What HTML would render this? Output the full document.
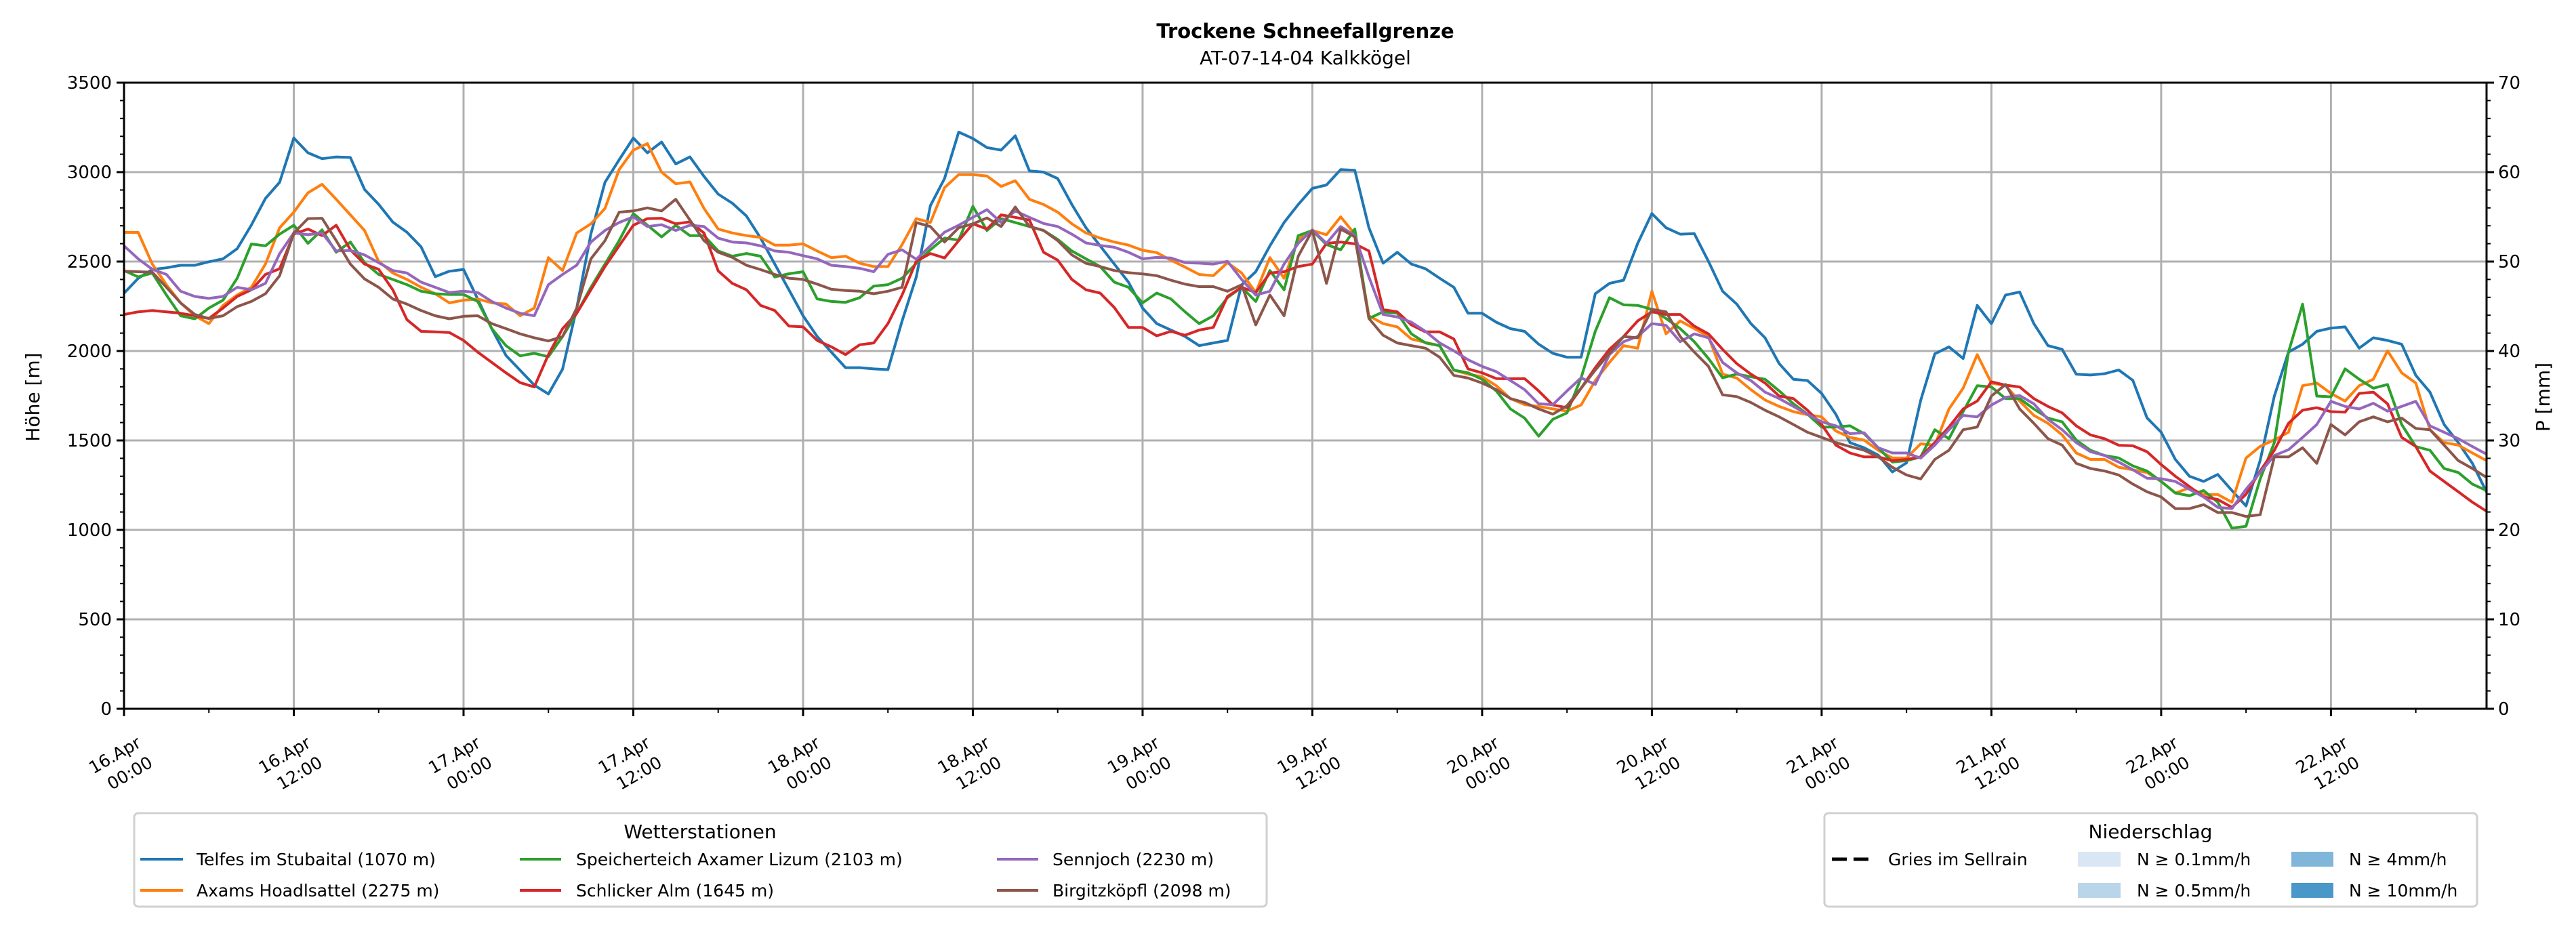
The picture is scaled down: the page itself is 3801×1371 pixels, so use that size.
<!DOCTYPE html>
<html><head><meta charset="utf-8"><style>
html,body{margin:0;padding:0;background:#fff;}
svg{display:block;font-family:"DejaVu Sans","Liberation Sans",sans-serif;}
</style></head><body>
<svg id="chart" width="3801" height="1371" viewBox="0 0 3801 1371" xmlns="http://www.w3.org/2000/svg">
<rect x="0" y="0" width="3801" height="1371" fill="#fff"/>
<text x="1926" y="56" text-anchor="middle" font-size="29" font-weight="bold">Trockene Schneefallgrenze</text>
<text x="1926" y="95" text-anchor="middle" font-size="28">AT-07-14-04 Kalkkögel</text>
<g id="grid"></g>
<g id="series"></g>
<g id="axes"></g>
<text transform="translate(58,586) rotate(-90)" text-anchor="middle" font-size="28">Höhe [m]</text>
<text transform="translate(3762,586) rotate(-90)" text-anchor="middle" font-size="28">P [mm]</text>

<g>
<rect x="198" y="1200" width="1671" height="138" rx="6" fill="#fff" stroke="#d0d0d0" stroke-width="3"/>
<text x="1033" y="1237" text-anchor="middle" font-size="28">Wetterstationen</text>
<g><line x1="207" y1="1268" x2="270" y2="1268" stroke="#1f77b4" stroke-width="4"/><text x="290" y="1277" font-size="25">Telfes im Stubaital (1070 m)</text></g>
<g><line x1="207" y1="1314" x2="270" y2="1314" stroke="#ff7f0e" stroke-width="4"/><text x="290" y="1323" font-size="25">Axams Hoadlsattel (2275 m)</text></g>
<g><line x1="767" y1="1268" x2="828" y2="1268" stroke="#2ca02c" stroke-width="4"/><text x="850" y="1277" font-size="25">Speicherteich Axamer Lizum (2103 m)</text></g>
<g><line x1="767" y1="1314" x2="828" y2="1314" stroke="#d62728" stroke-width="4"/><text x="850" y="1323" font-size="25">Schlicker Alm (1645 m)</text></g>
<g><line x1="1471" y1="1268" x2="1532" y2="1268" stroke="#9467bd" stroke-width="4"/><text x="1553" y="1277" font-size="25">Sennjoch (2230 m)</text></g>
<g><line x1="1471" y1="1314" x2="1532" y2="1314" stroke="#8c564b" stroke-width="4"/><text x="1553" y="1323" font-size="25">Birgitzköpfl (2098 m)</text></g>
</g>

<g>
<rect x="2692" y="1200" width="963" height="138" rx="6" fill="#fff" stroke="#d0d0d0" stroke-width="3"/>
<text x="3173" y="1237" text-anchor="middle" font-size="28">Niederschlag</text>
<g><line x1="2703" y1="1268" x2="2761" y2="1268" stroke="#000" stroke-width="5" stroke-dasharray="22,10"/><text x="2786" y="1277" font-size="25">Gries im Sellrain</text></g>
<g><rect x="3066" y="1257" width="63" height="22" fill="#d9e7f4"/><text x="3153" y="1277" font-size="25">N ≥ 0.1mm/h</text></g>
<g><rect x="3066" y="1303" width="63" height="22" fill="#b9d5ea"/><text x="3153" y="1323" font-size="25">N ≥ 0.5mm/h</text></g>
<g><rect x="3381" y="1257" width="62" height="22" fill="#7fb6da"/><text x="3466" y="1277" font-size="25">N ≥ 4mm/h</text></g>
<g><rect x="3381" y="1303" width="62" height="22" fill="#4a98c9"/><text x="3466" y="1323" font-size="25">N ≥ 10mm/h</text></g>
</g>
</svg>
<script>
const tickLabelsTop = ["16.Apr","16.Apr","17.Apr","17.Apr","18.Apr","18.Apr","19.Apr","19.Apr","20.Apr","20.Apr","21.Apr","21.Apr","22.Apr","22.Apr"];
const tickLabelsBottom = ["00:00","12:00","00:00","12:00","00:00","12:00","00:00","12:00","00:00","12:00","00:00","12:00","00:00","12:00"];
const yTicks = [0,500,1000,1500,2000,2500,3000,3500];
const y2Ticks = [0,10,20,30,40,50,60,70];
const seriesNames = ["telfes","axams","speicherteich","schlicker","sennjoch","birgitz"];
const seriesColors = ["#1f77b4","#ff7f0e","#2ca02c","#d62728","#9467bd","#8c564b"];
const telfes = [2323,2406,2456,2465,2479,2479,2499,2515,2572,2704,2853,2943,3191,3108,3075,3085,3082,2903,2820,2721,2664,2582,2416,2446,2456,2290,2124,1975,1892,1809,1760,1899,2240,2655,2943,3069,3191,3108,3168,3046,3085,2976,
2877,2826,2754,2631,2486,2342,2197,2081,1994,1907,1907,1900,1896,2168,2414,2812,2964,3224,3188,3137,3123,3203,3007,3000,2964,2819,2689,2588,2486,2385,2240,2153,2117,2081,2030,2045,2059,2370,2443,2588,2718,2819,
2909,2928,3014,3010,2689,2491,2552,2486,2460,2407,2356,2211,2211,2161,2125,2110,2038,1987,1965,1965,2320,2378,2396,2602,2768,2689,2653,2656,2501,2334,2262,2153,2074,1929,1842,1835,1763,1647,1488,1459,
1418,1324,1375,1723,1984,2023,1958,2255,2153,2313,2330,2153,2030,2009,1870,1866,1873,1894,1836,1626,1546,1394,1300,1271,1310,1220,1134,1389,1748,1994,2038,2110,2128,2135,2016,2074,2059,2038,1864,1770,1589,1488,1372,1212];
const axams = [2663,2663,2486,2370,2269,2197,2153,2255,2313,2356,2486,2689,2776,2884,2932,2848,2761,2674,2501,2436,2400,2356,2320,2269,2284,2291,2269,2262,2197,2240,2522,2450,2660,2711,2797,3014,3123,3159,3000,2935,2945,2797,
2682,2660,2645,2635,2592,2592,2599,2559,2522,2530,2491,2472,2472,2595,2740,2718,2913,2986,2986,2978,2920,2952,2848,2819,2776,2711,2660,2631,2609,2592,2563,2550,2508,2469,2428,2421,2494,2436,2327,2522,2407,2624,
2674,2650,2750,2653,2197,2153,2135,2067,2048,2030,1893,1871,1856,1806,1734,1700,1690,1676,1664,1698,1835,1936,2030,2016,2334,2096,2168,2125,2081,1871,1849,1784,1726,1690,1661,1644,1632,1553,1517,1502,
1445,1402,1402,1481,1474,1676,1792,1980,1821,1806,1720,1640,1596,1531,1430,1394,1394,1350,1336,1321,1271,1206,1235,1198,1198,1155,1402,1467,1503,1546,1806,1821,1763,1720,1806,1842,2001,1878,1821,1560,1488,1474,1430,1387];
const speicherteich = [2450,2414,2436,2313,2197,2180,2240,2284,2407,2598,2588,2653,2703,2602,2677,2552,2609,2494,2428,2400,2371,2334,2320,2316,2316,2277,2125,2030,1973,1987,1968,2081,2211,2356,2486,2617,2768,2703,2638,2703,2645,2645,
2559,2530,2545,2530,2414,2432,2443,2291,2277,2272,2298,2363,2371,2407,2490,2566,2631,2620,2808,2674,2740,2718,2696,2674,2624,2559,2515,2472,2385,2356,2269,2324,2291,2219,2153,2197,2298,2356,2277,2450,2342,2645,
2674,2595,2566,2682,2182,2219,2211,2096,2045,2030,1893,1878,1842,1777,1676,1625,1524,1618,1654,1850,2110,2298,2258,2255,2233,2182,2125,2052,1958,1850,1871,1856,1842,1777,1705,1647,1575,1575,1582,1538,
1459,1379,1387,1408,1560,1510,1661,1806,1799,1734,1734,1676,1625,1604,1502,1445,1416,1402,1358,1329,1271,1206,1191,1220,1155,1010,1020,1285,1488,1994,2262,1748,1744,1900,1842,1792,1813,1589,1466,1445,1343,1321,1256,1220];
const schlicker = [2204,2219,2226,2219,2211,2197,2182,2240,2305,2342,2428,2460,2653,2682,2645,2703,2566,2486,2457,2342,2175,2110,2107,2103,2059,1994,1936,1878,1823,1799,1980,2125,2211,2342,2472,2588,2703,2740,2742,2711,2722,2660,
2448,2378,2342,2255,2226,2139,2135,2059,2023,1980,2035,2045,2153,2313,2501,2545,2520,2617,2711,2682,2761,2747,2732,2552,2508,2400,2342,2324,2243,2132,2132,2085,2110,2088,2117,2132,2305,2356,2327,2436,2443,2472,
2486,2602,2609,2599,2559,2232,2219,2146,2107,2107,2067,1900,1878,1846,1845,1846,1777,1698,1683,1792,1907,2009,2081,2168,2219,2204,2204,2139,2096,2009,1929,1871,1821,1748,1734,1669,1589,1474,1430,1408,
1408,1387,1394,1408,1488,1575,1676,1720,1828,1809,1799,1734,1690,1654,1582,1531,1510,1473,1470,1437,1365,1300,1242,1184,1170,1126,1199,1329,1445,1596,1669,1683,1661,1658,1763,1770,1705,1517,1466,1329,1271,1213,1155,1104];
const sennjoch = [2588,2515,2457,2428,2334,2305,2294,2305,2356,2342,2378,2544,2660,2650,2660,2559,2562,2537,2494,2450,2436,2385,2356,2327,2334,2327,2277,2240,2211,2197,2371,2428,2480,2609,2674,2718,2750,2696,2706,2674,2703,2696,
2631,2609,2604,2588,2559,2552,2533,2515,2479,2472,2462,2443,2540,2566,2513,2588,2664,2703,2747,2790,2718,2783,2747,2713,2696,2653,2604,2590,2580,2552,2515,2523,2520,2494,2491,2486,2501,2400,2313,2334,2486,2602,
2677,2602,2696,2645,2414,2204,2190,2161,2110,2045,2001,1951,1914,1885,1835,1784,1705,1700,1777,1850,1813,1980,2052,2081,2153,2143,2052,2096,2074,1936,1878,1835,1770,1734,1690,1647,1604,1582,1538,1543,
1459,1430,1430,1401,1474,1560,1640,1632,1698,1741,1751,1705,1618,1560,1488,1437,1416,1379,1336,1289,1286,1271,1227,1184,1126,1119,1227,1321,1416,1448,1517,1589,1719,1690,1676,1708,1664,1690,1719,1582,1546,1510,1466,1423];
const birgitz = [2446,2443,2440,2356,2269,2204,2182,2197,2248,2277,2320,2421,2660,2740,2742,2617,2486,2403,2356,2291,2262,2226,2197,2180,2194,2197,2153,2125,2096,2074,2056,2081,2240,2515,2617,2776,2783,2800,2783,2848,2732,2617,
2552,2523,2479,2455,2428,2407,2400,2374,2345,2338,2334,2320,2334,2356,2718,2696,2609,2689,2711,2744,2696,2805,2696,2674,2617,2537,2490,2472,2450,2438,2431,2421,2396,2374,2360,2360,2334,2370,2146,2313,2197,2530,
2674,2378,2682,2638,2182,2088,2045,2030,2016,1965,1864,1849,1821,1784,1734,1712,1676,1647,1694,1792,1893,1987,2081,2074,2233,2219,2081,1994,1914,1755,1745,1712,1669,1632,1589,1546,1517,1488,1466,1445,
1408,1350,1307,1285,1394,1445,1560,1575,1748,1813,1676,1596,1510,1474,1372,1343,1329,1307,1256,1213,1184,1119,1119,1141,1097,1097,1075,1085,1408,1408,1459,1372,1589,1531,1604,1632,1604,1625,1567,1560,1474,1387,1343,1293];

const NS = "http://www.w3.org/2000/svg";
const L = 183, R = 3669, T = 122, B = 1046, HMAX = 167, VMAX = 3500, PMAX = 70;
function xs(h){ return L + h * (R - L) / HMAX; }
function ys(v){ return B - v * (B - T) / VMAX; }
function yp(p){ return B - p * (B - T) / PMAX; }
function mk(tag, attrs, parent){
  const e = document.createElementNS(NS, tag);
  for (const k in attrs) e.setAttribute(k, attrs[k]);
  parent.appendChild(e);
  return e;
}
const grid = document.getElementById("grid");
const axes = document.getElementById("axes");
const sg = document.getElementById("series");

yTicks.forEach(v => {
  const g = mk("line", {x1:L, x2:R, y1:ys(v), y2:ys(v), stroke:"#b0b0b0", "stroke-width":3}, grid);
  
  
  const tk = mk("line", {x1:L-11, x2:L, y1:ys(v), y2:ys(v), stroke:"#000", "stroke-width":3}, axes);
  
  
  const t = mk("text", {x:L-18, y:ys(v)+9, "text-anchor":"end", "font-size":26}, axes);
  t.textContent = v;
  
  
});
for (let v = 0; v <= VMAX; v += 100) {
  if (v % 500 === 0) continue;
  const m = mk("line", {x1:L-6, x2:L, y1:ys(v), y2:ys(v), stroke:"#000", "stroke-width":2}, axes);
  
  
}
y2Ticks.forEach(p => {
  const tk = mk("line", {x1:R, x2:R+11, y1:yp(p), y2:yp(p), stroke:"#000", "stroke-width":3}, axes);
  
  
  const t = mk("text", {x:R+17, y:yp(p)+9, "text-anchor":"start", "font-size":26}, axes);
  t.textContent = p;
  
  
});
for (let p = 0; p <= PMAX; p += 2) {
  if (p % 10 === 0) continue;
  const m = mk("line", {x1:R, x2:R+6, y1:yp(p), y2:yp(p), stroke:"#000", "stroke-width":2}, axes);
  
  
}
tickLabelsTop.forEach((lab, i) => {
  const h = i * 12, x = xs(h);
  const g = mk("line", {x1:x, x2:x, y1:T, y2:B, stroke:"#b0b0b0", "stroke-width":3}, grid);
  
  
  const tk = mk("line", {x1:x, x2:x, y1:B, y2:B+11, stroke:"#000", "stroke-width":3}, axes);
  
  
  const grp = mk("g", {transform:"translate(" + x + "," + B + ") rotate(-30)"}, axes);
  
  
  const t1 = mk("text", {x:-46, y:61, "text-anchor":"middle", "font-size":25}, grp);
  t1.textContent = lab;
  const t2 = mk("text", {x:-40, y:95, "text-anchor":"middle", "font-size":25}, grp);
  t2.textContent = tickLabelsBottom[i];
});
for (let h = 6; h <= HMAX; h += 12) {
  const m = mk("line", {x1:xs(h), x2:xs(h), y1:B, y2:B+6, stroke:"#000", "stroke-width":2}, axes);
  
  
}
const frame = mk("rect", {x:L, y:T, width:R-L, height:B-T, fill:"none", stroke:"#000", "stroke-width":3}, axes);



const allSeries = [telfes, axams, speicherteich, schlicker, sennjoch, birgitz];
allSeries.forEach((arr, si) => {
  const pts = arr.map((v, h) => xs(h).toFixed(1) + "," + ys(v).toFixed(1)).join(" ");
  const pl = mk("polyline", {points:pts, fill:"none", stroke:seriesColors[si], "stroke-width":4, "stroke-linejoin":"round"}, sg);
  
  
});
</script>
</body></html>
